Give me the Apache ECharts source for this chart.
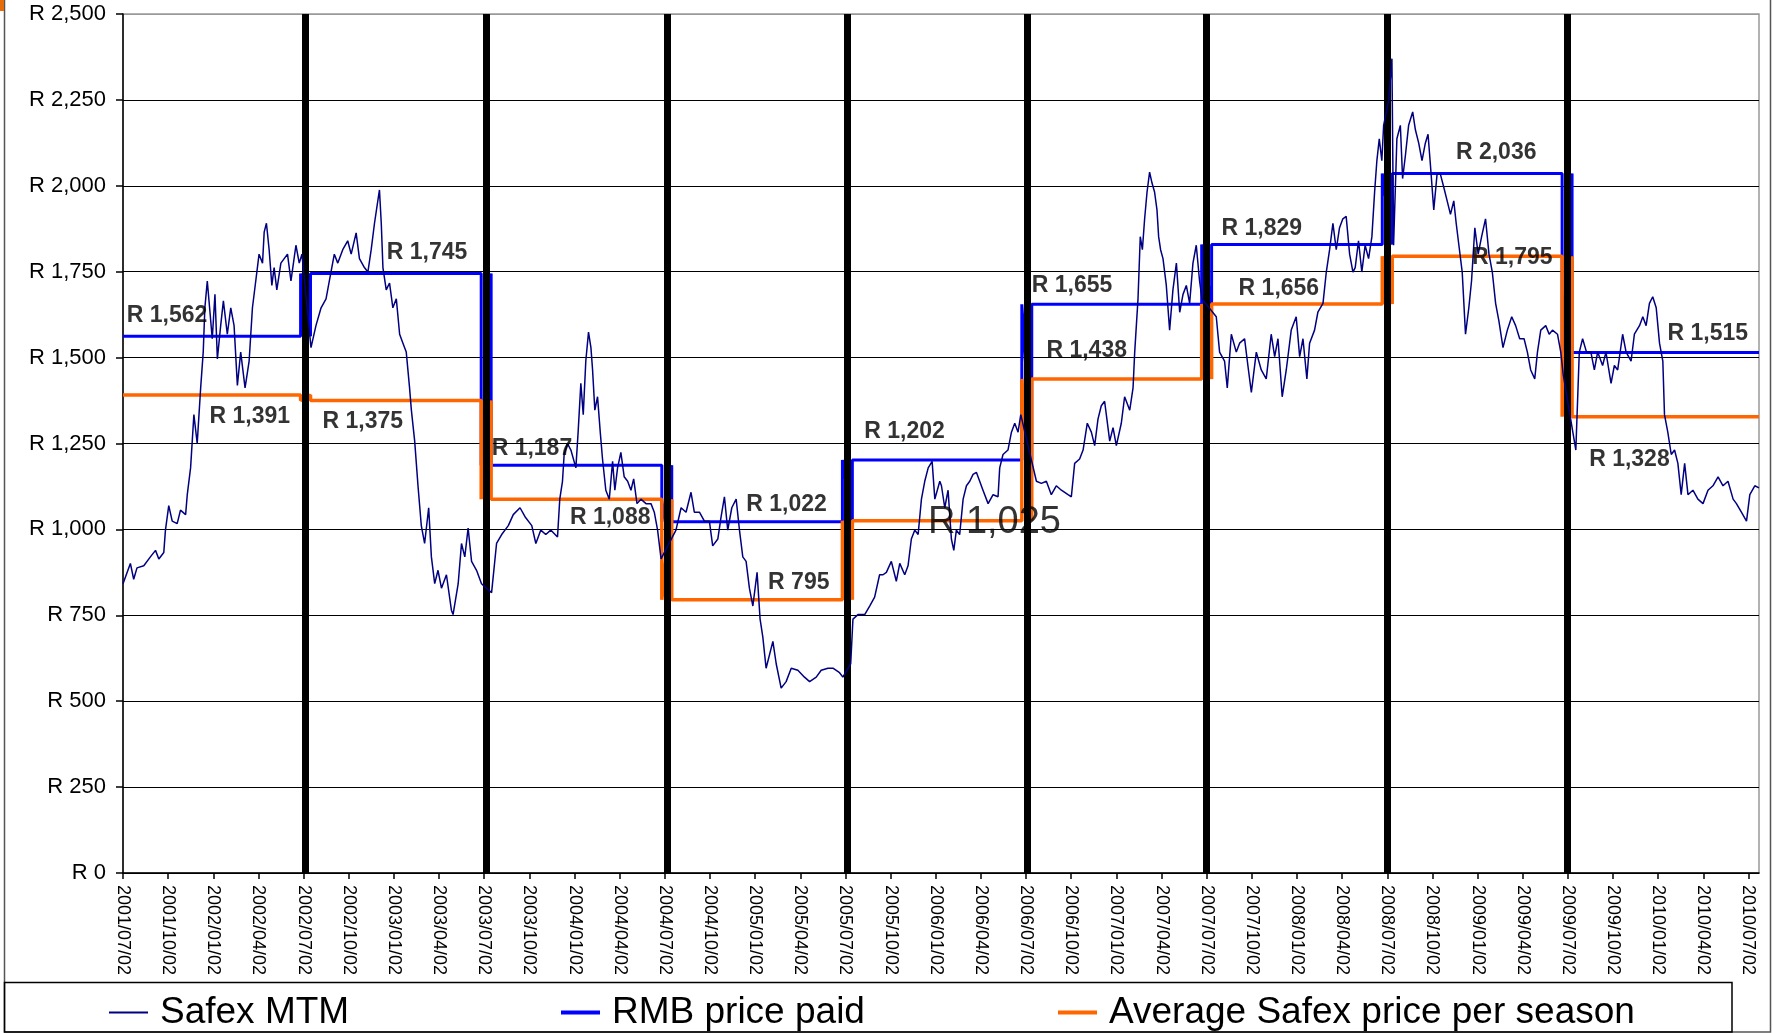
<!DOCTYPE html>
<html>
<head>
<meta charset="utf-8">
<title>Safex MTM vs RMB price paid</title>
<script src="https://cdn.jsdelivr.net/npm/echarts@6/dist/echarts.min.js"></script>
<style>
  html, body { margin: 0; padding: 0; background: #fff; }
  #chart { width: 1773px; height: 1033px; }
</style>
</head>
<body>
<div id="chart"></div>
<script>
// x values are months counted from 2001/07/02 (0 = 2001/07/02, 3 = 2001/10/02 ...)
const xMax = 108.7

// Safex mark-to-market as [month, rand]
const mtm = [
  [0,842],[0.49,901],[0.71,855],[0.93,888],[1.38,894],[1.82,920],[2.16,939],[2.38,914],[2.71,933],[2.82,998],
  [3.04,1069],[3.27,1024],[3.6,1017],[3.82,1056],[4.16,1043],[4.27,1101],[4.49,1179],[4.71,1334],[4.93,1250],[5.16,1412],
  [5.33,1516],[5.44,1645],[5.6,1723],[5.78,1632],[5.93,1555],[6.11,1684],[6.27,1496],[6.49,1593],[6.67,1665],[6.93,1568],
  [7.16,1645],[7.38,1593],[7.6,1419],[7.82,1516],[8.11,1412],[8.38,1490],[8.6,1645],[8.82,1723],[9.04,1801],[9.27,1775],
  [9.38,1865],[9.53,1891],[9.71,1814],[9.89,1710],[10.04,1762],[10.22,1697],[10.49,1775],[10.93,1801],[11.16,1723],[11.49,1827],
  [11.71,1775],[11.89,1801],[12.49,1529],[12.82,1593],[13.16,1645],[13.49,1671],[13.71,1723],[14.04,1801],[14.27,1775],[14.6,1814],
  [14.93,1840],[15.16,1801],[15.49,1863],[15.71,1788],[16.04,1762],[16.27,1749],[16.49,1814],[16.71,1891],[16.93,1956],[17.04,1988],
  [17.16,1891],[17.27,1762],[17.49,1697],[17.71,1717],[17.93,1645],[18.16,1671],[18.38,1568],[18.6,1542],[18.82,1516],[19.04,1412],
  [19.16,1347],[19.38,1257],[19.6,1127],[19.82,1011],[20.04,959],[20.31,1063],[20.49,920],[20.71,842],[20.93,881],[21.16,829],
  [21.49,868],[21.82,765],[21.93,752],[22.27,842],[22.49,959],[22.71,920],[22.93,1004],[23.16,907],[23.49,881],[23.82,842],
  [24.49,816],[24.82,959],[25.16,985],[25.6,1011],[25.93,1043],[26.38,1063],[26.71,1037],[27.16,1011],[27.43,959],[27.76,998],
  [28.09,985],[28.42,998],[28.87,978],[29.02,1088],[29.2,1140],[29.31,1218],[29.53,1250],[29.76,1231],[30.09,1179],[30.24,1283],
  [30.42,1425],[30.58,1334],[30.75,1490],[30.93,1574],[31.09,1529],[31.2,1464],[31.35,1347],[31.53,1386],[31.71,1283],[31.86,1205],
  [32.08,1114],[32.31,1088],[32.53,1198],[32.68,1114],[32.86,1179],[33.08,1224],[33.3,1153],[33.53,1140],[33.75,1114],[33.93,1147],
  [34.15,1075],[34.41,1088],[34.75,1075],[35.08,1075],[35.3,1050],[35.52,998],[35.75,914],[36.74,998],[37.08,1063],[37.41,1050],
  [37.74,1108],[37.96,1050],[38.3,1050],[38.63,1024],[38.96,1024],[39.18,952],[39.52,972],[39.74,1037],[39.96,1095],[40.18,998],
  [40.45,1063],[40.74,1088],[40.96,998],[41.18,920],[41.4,907],[41.62,829],[41.85,777],[42.13,875],[42.33,739],[42.51,687],
  [42.73,596],[43.18,674],[43.4,609],[43.73,538],[44.06,557],[44.4,596],[44.84,590],[45.28,570],[45.62,557],[46.06,570],
  [46.39,590],[46.84,596],[47.17,596],[47.61,583],[47.83,570],[48.35,609],[48.5,739],[48.83,752],[49.28,752],[49.61,777],
  [49.94,803],[50.27,868],[50.5,868],[50.72,875],[51.05,907],[51.38,849],[51.61,901],[51.94,868],[52.16,894],[52.38,972],
  [52.61,998],[52.83,985],[53.05,1088],[53.27,1140],[53.5,1179],[53.76,1198],[53.94,1088],[54.27,1140],[54.38,1127],[54.6,1063],
  [54.82,1114],[55.04,972],[55.2,939],[55.37,998],[55.59,985],[55.82,1088],[56.04,1127],[56.26,1140],[56.48,1160],[56.7,1166],
  [56.92,1140],[57.14,1114],[57.48,1075],[57.81,1101],[58.14,1095],[58.25,1179],[58.47,1218],[58.8,1231],[59.03,1283],[59.25,1309],
  [59.47,1283],[59.65,1334],[60.69,1140],[61.02,1134],[61.35,1140],[61.68,1101],[62.01,1127],[62.35,1114],[62.79,1101],[63.01,1095],
  [63.23,1192],[63.56,1205],[63.79,1231],[64.07,1309],[64.34,1283],[64.56,1244],[64.78,1321],[65.0,1360],[65.22,1373],[65.56,1257],
  [65.78,1296],[66.0,1244],[66.33,1309],[66.55,1386],[66.89,1347],[67.11,1412],[67.22,1516],[67.44,1671],[67.59,1852],[67.73,1814],
  [67.88,1904],[68.04,1982],[68.21,2040],[68.37,2008],[68.54,1982],[68.7,1930],[68.81,1852],[68.94,1814],[69.1,1788],[69.32,1710],
  [69.54,1580],[69.76,1697],[69.99,1775],[70.21,1632],[70.43,1684],[70.65,1710],[70.87,1658],[71.09,1775],[71.31,1827],[71.53,1723],
  [71.69,1671],[72.64,1619],[72.86,1516],[73.19,1490],[73.37,1412],[73.64,1568],[73.97,1516],[74.19,1542],[74.52,1555],[74.74,1477],
  [74.97,1399],[75.3,1516],[75.63,1464],[75.96,1438],[76.29,1568],[76.52,1503],[76.74,1555],[77.02,1386],[77.29,1464],[77.62,1580],
  [77.95,1619],[78.18,1503],[78.4,1555],[78.66,1438],[78.84,1542],[79.17,1580],[79.39,1632],[79.73,1658],[79.95,1749],[80.17,1814],
  [80.39,1891],[80.61,1814],[80.83,1878],[81.05,1904],[81.27,1911],[81.5,1801],[81.72,1749],[81.87,1762],[82.09,1840],[82.31,1749],
  [82.53,1827],[82.76,1788],[82.98,1852],[83.16,1982],[83.31,2073],[83.47,2137],[83.64,2073],[83.76,2176],[84.1,2250],[84.31,2370],
  [84.42,1827],[84.64,2137],[84.87,2176],[85.02,2021],[85.2,2086],[85.42,2176],[85.69,2215],[85.87,2163],[86.09,2124],[86.31,2073],
  [86.53,2124],[86.71,2150],[86.87,2060],[87.09,1930],[87.31,2034],[87.53,2034],[87.76,1995],[87.98,1956],[88.2,1917],[88.42,1956],
  [88.58,1891],[88.76,1827],[88.98,1749],[89.2,1568],[89.42,1645],[89.6,1723],[89.82,1878],[90.04,1801],[90.27,1852],[90.53,1904],
  [90.76,1801],[90.98,1749],[91.2,1658],[91.42,1606],[91.69,1529],[91.98,1580],[92.27,1619],[92.53,1593],[92.8,1555],[93.09,1555],
  [93.31,1516],[93.53,1464],[93.8,1438],[93.98,1516],[94.2,1580],[94.53,1593],[94.76,1568],[94.98,1580],[95.31,1568],[95.53,1516],
  [95.69,1451],[96.53,1231],[96.76,1516],[96.98,1555],[97.24,1516],[97.53,1516],[97.76,1464],[97.98,1516],[98.31,1477],[98.53,1516],
  [98.87,1425],[99.09,1477],[99.31,1464],[99.64,1568],[99.87,1516],[100.2,1490],[100.42,1568],[100.76,1593],[100.98,1619],[101.2,1593],
  [101.42,1658],[101.64,1677],[101.87,1645],[102.09,1542],[102.31,1490],[102.42,1334],[102.64,1283],[102.87,1218],[103.09,1231],[103.31,1192],
  [103.53,1101],[103.76,1192],[103.98,1101],[104.31,1114],[104.64,1088],[104.98,1075],[105.31,1114],[105.64,1127],[105.98,1153],[106.31,1127],
  [106.64,1140],[106.98,1088],[107.2,1075],[107.53,1050],[107.87,1024],[108.09,1101],[108.42,1127],[108.7,1121]
]

// season boundaries (black bars), a few days after 2 July each year
const seasonBreaks = [12.13, 24.13, 36.13, 48.13, 60.05, 72.0, 84.0, 95.95]
// per season, 2001/02 ... 2009/10
const rmbPrice = [1562, 1745, 1187, 1022, 1202, 1655, 1829, 2036, 1515]
const avgSafex = [1391, 1375, 1088, 795, 1025, 1438, 1656, 1795, 1328]

// where the value labels sit: month of label centre, pixel shift from the line
const rmbLabelMonth = [2.93, 20.2, 27.17, 44.09, 51.93, 63.06, 75.66, 91.24, 105.3]
const rmbLabelDy = [-21, -21, -16, -17, -28, -19, -16, -21, -19]
const avgLabelMonth = [8.42, 15.93, 32.37, 44.9, 57.9, 64.03, 76.8, 92.31, 100.09]
const avgLabelDy = [22, 21, 18, -17, 2, -28, -15, 1, 43]

const quarterTicks = Array.from({ length: 37 }, (_, i) => i * 3)
const FONT = '"Liberation Sans", Arial, sans-serif'

function rand(v) {
  return 'R ' + String(v).replace(/\B(?=(\d{3})+(?!\d))/g, ',')
}

function dateLabel(m) {
  const total = 2001 * 12 + 6 + Math.round(m)
  const y = Math.floor(total / 12)
  const mo = (total % 12) + 1
  return y + '/' + (mo < 10 ? '0' + mo : mo) + '/02'
}

// the season lines change on both sides of each black bar
function seasonLine(values) {
  const edge = 0.33
  const pts = [[0, values[0]]]
  seasonBreaks.forEach((c, i) => {
    const prev = values[i]
    const next = values[i + 1]
    pts.push([c - edge, prev], [c - edge, next], [c + edge, prev], [c + edge, next])
  })
  pts.push([xMax, values[values.length - 1]])
  return pts
}

function labelItems(values, months, dys, big) {
  return values.map((v, i) => {
    const isBig = big === i
    return {
      value: [months[i], v],
      label: {
        formatter: rand(v),
        offset: [0, dys[i]],
        color: '#000',
        fontSize: isBig ? 38 : 23,
        fontWeight: isBig ? 'normal' : 'bold'
      }
    }
  })
}

const chart = echarts.init(document.getElementById('chart'))

const legendBase = {
  orient: 'horizontal',
  top: 994,
  padding: 0,
  icon: 'rect',
  itemWidth: 39,
  selectedMode: false,
  textStyle: { fontFamily: FONT, fontSize: 37, color: '#000', padding: [0, 0, 0, 7] }
}

chart.setOption({
  animation: false,
  backgroundColor: '#fff',
  textStyle: { fontFamily: FONT },
  grid: {
    left: 123,
    right: 14,
    top: 14,
    bottom: 160,
    show: true,
    borderColor: '#999',
    borderWidth: 1.5
  },
  legend: [
    Object.assign({}, legendBase, { left: 109, itemHeight: 2, data: ['Safex MTM'] }),
    Object.assign({}, legendBase, { left: 561, itemHeight: 4, data: ['RMB price paid'] }),
    Object.assign({}, legendBase, { left: 1058, itemHeight: 4, data: ['Average Safex price per season'] })
  ],
  xAxis: {
    type: 'value',
    min: 0,
    max: xMax,
    interval: 3,
    axisLine: { lineStyle: { color: '#000', width: 1.5 } },
    axisTick: { show: true, length: 6, lineStyle: { color: '#000', width: 1.5 }, customValues: quarterTicks },
    axisLabel: {
      customValues: quarterTicks,
      formatter: dateLabel,
      rotate: -90,
      margin: 12,
      fontSize: 18,
      color: '#000',
      fontFamily: FONT
    },
    splitLine: { show: false }
  },
  yAxis: {
    type: 'value',
    min: 0,
    max: 2500,
    interval: 250,
    axisLine: { show: true, lineStyle: { color: '#000', width: 1.5 } },
    axisTick: { show: true, length: 7, lineStyle: { color: '#000', width: 1.5 } },
    axisLabel: { formatter: rand, margin: 17, fontSize: 22, color: '#000', fontFamily: FONT },
    splitLine: {
      show: true,
      lineStyle: { color: ['#000', '#000', '#000', '#000', '#000', '#000', '#000', '#000', '#000', '#000', '#999'], width: 1.2 }
    }
  },
  series: [
    {
      name: 'RMB price paid',
      type: 'line',
      data: seasonLine(rmbPrice),
      symbol: 'none',
      color: '#0000FF',
      itemStyle: { color: '#0000FF' },
      lineStyle: { color: '#0000FF', width: 3 },
      z: 3
    },
    {
      name: 'Average Safex price per season',
      type: 'line',
      data: seasonLine(avgSafex),
      symbol: 'none',
      color: '#FF6600',
      itemStyle: { color: '#FF6600' },
      lineStyle: { color: '#FF6600', width: 3.5 },
      z: 4
    },
    {
      name: 'Safex MTM',
      type: 'line',
      data: mtm,
      symbol: 'none',
      color: '#000080',
      itemStyle: { color: '#000080' },
      lineStyle: { color: '#000080', width: 1.5 },
      z: 5
    },
    {
      name: 'season',
      type: 'line',
      data: [],
      z: 8,
      markLine: {
        silent: true,
        symbol: 'none',
        label: { show: false },
        lineStyle: { color: '#000', width: 7, type: 'solid' },
        data: seasonBreaks.map(m => ({ xAxis: m }))
      }
    },
    {
      name: 'labels',
      type: 'scatter',
      symbolSize: 0,
      silent: true,
      z: 10,
      label: {
        show: true,
        position: 'inside',
        color: '#000',
        fontFamily: FONT
      },
      data: labelItems(rmbPrice, rmbLabelMonth, rmbLabelDy, -1)
        .concat(labelItems(avgSafex, avgLabelMonth, avgLabelDy, 4))
    }
  ],
  graphic: [
    {
      type: 'rect',
      silent: true,
      z: -1,
      shape: { x: 4.5, y: -5, width: 1766, height: 1037 },
      style: { fill: 'none', stroke: '#555', lineWidth: 1.5 }
    },
    {
      type: 'rect',
      silent: true,
      shape: { x: 4.5, y: 982.5, width: 1727.5, height: 49.5 },
      style: { fill: 'none', stroke: '#000', lineWidth: 1.5 }
    },
    {
      type: 'rect',
      silent: true,
      shape: { x: 0, y: 0, width: 4, height: 11 },
      style: { fill: '#E46C0A' }
    }
  ]
})
</script>
</body>
</html>
